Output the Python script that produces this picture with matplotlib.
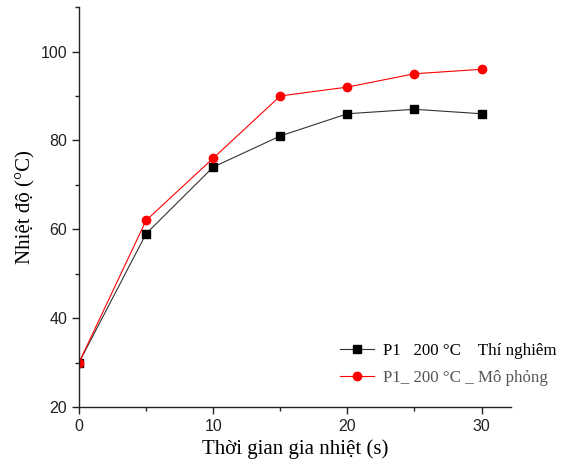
import matplotlib
matplotlib.use("Agg")
import matplotlib.pyplot as plt
from matplotlib.ticker import MultipleLocator

time_s = [0, 5, 10, 15, 20, 25, 30]
exp_temp = [30, 59, 74, 81, 86, 87, 86]
sim_temp = [30, 62, 76, 90, 92, 95, 96]
label_exp = "P1   200 °C    Thí nghiêm"
label_sim = "P1_ 200 °C _ Mô phỏng"

fig = plt.figure(figsize=(5.66, 4.73), dpi=100)
ax = fig.add_axes([0.1396, 0.1395, 0.903 - 0.1396, 0.985 - 0.1395])

ax.plot(time_s, exp_temp, color="#333333", lw=0.8, marker="s", ms=5.5,
        markerfacecolor="black", markeredgecolor="black", label=label_exp)
ax.plot(time_s, sim_temp, color="red", lw=0.8, marker="o", ms=6,
        markerfacecolor="red", markeredgecolor="red", label=label_sim)

ax.set_xlim(0, 32.2)
ax.set_ylim(20, 110)
ax.xaxis.set_major_locator(MultipleLocator(10))
ax.xaxis.set_minor_locator(MultipleLocator(5))
ax.yaxis.set_major_locator(MultipleLocator(20))
ax.yaxis.set_minor_locator(MultipleLocator(10))
ax.spines["top"].set_visible(False)
ax.spines["right"].set_visible(False)
for s in ("left", "bottom"):
    ax.spines[s].set_linewidth(1.0)
    ax.spines[s].set_color("#222222")
ax.tick_params(which="major", direction="out", length=5, width=1, labelsize=11.5,
               colors="#222222")
ax.tick_params(which="minor", direction="out", length=3, width=1, colors="#222222")
for lab in ax.get_xticklabels() + ax.get_yticklabels():
    lab.set_fontfamily("Liberation Sans")

ax.set_xlabel("Thời gian gia nhiệt (s)", fontfamily="Liberation Serif", fontsize=15)
ax.set_ylabel("Nhiệt độ (°C)", fontfamily="Liberation Serif", fontsize=15, labelpad=4)

leg = ax.legend(loc="lower right", frameon=False, bbox_to_anchor=(1.14, 0.015),
                prop={"family": "Liberation Serif", "size": 12.2},
                handlelength=2.0, handletextpad=0.5, labelspacing=0.65)
leg.get_texts()[1].set_color("#555555")

fig.savefig("out.png", dpi=100)
